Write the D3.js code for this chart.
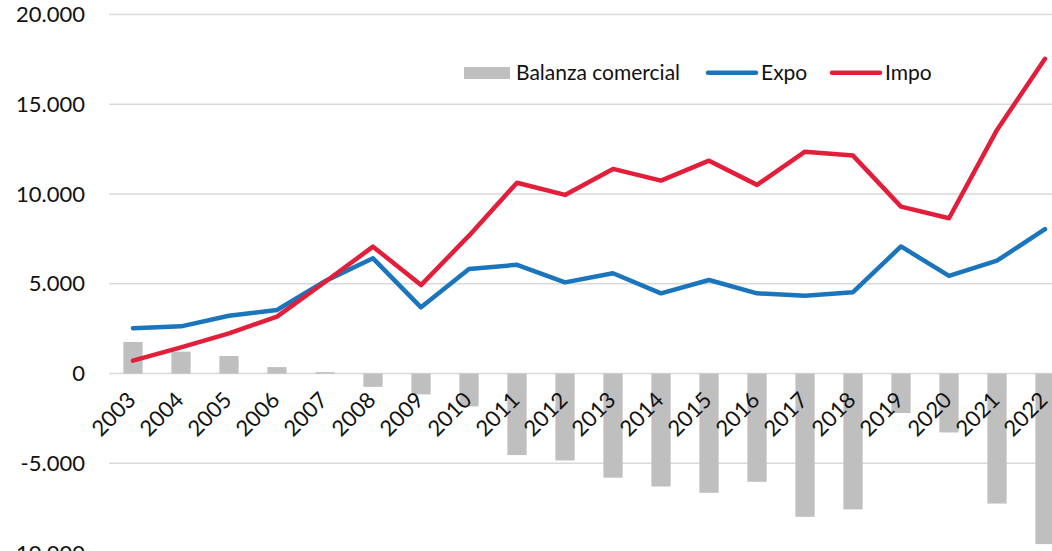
<!DOCTYPE html>
<html>
<head>
<meta charset="utf-8">
<script src="https://cdn.jsdelivr.net/npm/d3@7"></script>
<style>
  body { margin: 0; background: #fff; }
  svg { display: block; font-family: Lato, "Open Sans", sans-serif; }
</style>
</head>
<body>
<svg width="1052" height="551"></svg>
<script>
// Chart data
const years = ["2003","2004","2005","2006","2007","2008","2009","2010","2011","2012",
  "2013","2014","2015","2016","2017","2018","2019","2020","2021","2022"];
const expo = [2530, 2630, 3220, 3540, 5150, 6420, 3690, 5820, 6060, 5080,
  5590, 4470, 5210, 4470, 4340, 4530, 7080, 5440, 6290, 8040];
const impo = [720, 1460, 2240, 3170, 5100, 7070, 4930, 7680, 10630, 9950,
  11400, 10750, 11860, 10510, 12360, 12140, 9300, 8650, 13570, 17530];
const balanza = [1760, 1220, 980, 360, 80, -740, -1160, -1830, -4540, -4840,
  -5800, -6290, -6640, -6030, -7980, -7570, -2200, -3280, -7240, -9500];
const yTicks = [-10000, -5000, 0, 5000, 10000, 15000, 20000];

const svg = d3.select("svg");

// Scales
const xScale = d3.scaleBand()
  .domain(years)
  .range([109, 1069])
  .paddingInner(0.6)
  .paddingOuter(0.3);

const yScale = d3.scaleLinear()
  .domain([-10000, 20000])
  .range([553.1, 14.5]);

const fmt = d => d === 0 ? "0" : d3.format(",")(d).replace(/,/g, ".").replace("−", "-");
const cx = d => xScale(d) + xScale.bandwidth() / 2;

// Gridlines
svg.append("g")
  .selectAll("line")
  .data(yTicks)
  .enter()
  .append("line")
  .attr("x1", 109)
  .attr("x2", 1052)
  .attr("y1", d => yScale(d))
  .attr("y2", d => yScale(d))
  .attr("stroke", "#d9d9d9")
  .attr("stroke-width", 1.5);

// Y axis labels
const yAxis = d3.axisLeft(yScale).tickValues(yTicks).tickSize(0).tickPadding(0).tickFormat(fmt);
svg.append("g")
  .attr("transform", "translate(85,0)")
  .call(yAxis)
  .call(g => g.select(".domain").remove())
  .selectAll("text")
  .attr("font-size", 22)
  .attr("font-family", "Lato, sans-serif")
  .attr("fill", "#111");

// Bars (Balanza comercial)
svg.append("g")
  .selectAll("rect")
  .data(balanza)
  .enter()
  .append("rect")
  .attr("x", (d, i) => xScale(years[i]))
  .attr("width", xScale.bandwidth())
  .attr("y", d => yScale(Math.max(0, d)))
  .attr("height", d => Math.abs(yScale(d) - yScale(0)))
  .attr("fill", "#bfbfbf");

// X axis labels, rotated
svg.append("g")
  .selectAll("text")
  .data(years)
  .enter()
  .append("text")
  .text(d => d)
  .attr("transform", d => `translate(${cx(d) + 4},${yScale(0) + 28}) rotate(-45)`)
  .attr("text-anchor", "end")
  .attr("font-size", 22)
  .attr("fill", "#111");

// Lines
const line = d3.line()
  .x((d, i) => cx(years[i]))
  .y(d => yScale(d));

svg.append("path")
  .datum(expo)
  .attr("d", line)
  .attr("fill", "none")
  .attr("stroke", "#1b75bc")
  .attr("stroke-width", 4.5)
  .attr("stroke-linejoin", "round")
  .attr("stroke-linecap", "round");

svg.append("path")
  .datum(impo)
  .attr("d", line)
  .attr("fill", "none")
  .attr("stroke", "#e31e3a")
  .attr("stroke-width", 4.5)
  .attr("stroke-linejoin", "round")
  .attr("stroke-linecap", "round");

// Legend
const legend = svg.append("g").attr("font-size", 21).attr("fill", "#111");

legend.append("rect")
  .attr("x", 464).attr("y", 67)
  .attr("width", 46).attr("height", 12)
  .attr("fill", "#bfbfbf");
legend.append("text").text("Balanza comercial").attr("x", 516).attr("y", 80);

legend.append("line")
  .attr("x1", 708).attr("x2", 756).attr("y1", 72.7).attr("y2", 72.7)
  .attr("stroke", "#1b75bc").attr("stroke-width", 4.5).attr("stroke-linecap", "round");
legend.append("text").text("Expo").attr("x", 761).attr("y", 80);

legend.append("line")
  .attr("x1", 832).attr("x2", 880).attr("y1", 72.7).attr("y2", 72.7)
  .attr("stroke", "#e31e3a").attr("stroke-width", 4.5).attr("stroke-linecap", "round");
legend.append("text").text("Impo").attr("x", 885).attr("y", 80);
</script>
</body>
</html>
